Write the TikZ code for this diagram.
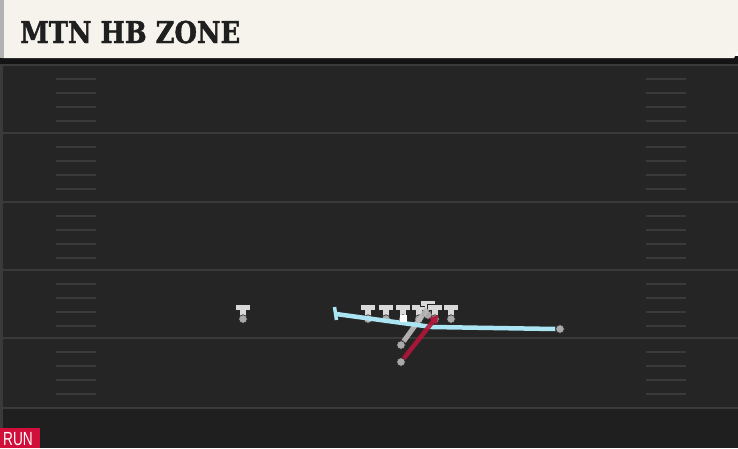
\documentclass[tikz,border=0pt]{standalone}
\usepackage{fontspec}
\newfontfamily\titlefont[FakeBold=1.6]{DejaVu Serif Bold}
\newfontfamily\tagfont{Liberation Sans}
\usetikzlibrary{arrows.meta}
\definecolor{field}{HTML}{252525}
\definecolor{fieldlow}{HTML}{1F1F1F}
\definecolor{yardline}{HTML}{3A3A3A}
\definecolor{cream}{HTML}{F5F3EC}
\definecolor{player}{HTML}{D9D9D9}
\definecolor{playerdot}{HTML}{A9A9A9}
\definecolor{blockblue}{HTML}{ABE4F2}
\definecolor{runred}{HTML}{B3153A}
\definecolor{qbgray}{HTML}{BDBDBD}
\definecolor{runtag}{HTML}{D0103A}
\tikzset{
  yard/.style={yardline, line width=2pt},
  hashm/.style={yardline, line width=2pt},
  pdot/.style={circle, fill=playerdot, draw=black!85, line width=0.6pt, minimum size=8.5pt, inner sep=0pt},
  tbody/.style={fill=player, draw=black!85, line width=0.7pt},
  bluepath/.style={blockblue, line width=4.5pt},
  redpath/.style={runred, line width=4.5pt, opacity=0.9, -{Triangle[length=8pt,width=10pt]}},
  graypath/.style={qbgray, line width=5pt, opacity=0.9},
}
\newcommand{\playerT}[3]{% name, x, bar y
  \path[tbody] (#2-7.5,#3-1) rectangle (#2+7.5,#3+5);
  \path[tbody] (#2-3,#3+4.5) rectangle (#2+3,#3+13);
  \fill[player] (#2-7,#3-0.5) rectangle (#2+7,#3+4.6);
  \fill[player] (#2-2.6,#3+4) rectangle (#2+2.6,#3+13);
  \node[pdot] (#1) at (#2,#3+14) {};
}
\begin{document}
\begin{tikzpicture}[x=1pt,y=-1pt]
\useasboundingbox (0,0) rectangle (738,448);
% field
\fill[field] (0,58) rectangle (738,448);
\fill[fieldlow] (0,409) rectangle (738,448);
\fill[yardline] (0,58) rectangle (2.5,448);
% header
\fill[black!92] (0,56) rectangle (738,64);
\fill[cream] (3,0) -- (738,0) -- (738,50) -- (734,58) -- (3,58) -- cycle;
\fill[black!30] (0,0) rectangle (3.5,58);
\node[anchor=base west, inner sep=0pt, text=black!88] (title) at (20,43)
  {\scalebox{0.86}[1]{\titlefont\fontsize{30}{30}\selectfont MTN HB ZONE}};
% yard lines
\foreach \yy in {65,133,202,270,338,408} {
  \draw[yard] (0,\yy) -- (738,\yy);
}
% hash marks
\foreach \base in {65,133,202,270,338} {
  \foreach \off in {14,28,42,56} {
    \draw[hashm] (56,\base+\off) -- (96,\base+\off);
    \draw[hashm] (646,\base+\off) -- (686,\base+\off);
  }
}
% players
\playerT{wr}{243}{305}
\playerT{lt}{368}{305}
\playerT{lg}{386}{305}
\playerT{c}{403}{305}
\playerT{rg}{419}{305}
\playerT{te}{428}{301}
\playerT{rt}{435}{305}
\playerT{y}{451}{305}
\node[pdot] (qb) at (401,345) {};
\node[pdot] (hb) at (401,362) {};
\node[pdot] (bend) at (560,329) {};
% paths
\coordinate (bstart) at (336,314);
\coordinate (bkink) at (432,327);
\coordinate (qbend) at (427,309);
\coordinate (hbend) at (438,315);
\draw[graypath] (qb) -- (qbend);
\draw[bluepath] (bstart) -- (bkink) -- (bend.west);
\draw[blockblue, line width=3.5pt] (334.5,307) -- (336.5,320);
\node[pdot] at (560,329) {};
\fill[white] (399.5,314.5) rectangle (406.5,321.5);
\draw[redpath] (hb) -- (hbend);
% run tag
\fill[runtag] (0,428) rectangle (40,448);
\node[anchor=base west, inner sep=0pt, text=white] (tag) at (3,445.5)
  {\scalebox{0.72}[1]{\tagfont\fontsize{19}{19}\selectfont RUN}};
\end{tikzpicture}
\end{document}
